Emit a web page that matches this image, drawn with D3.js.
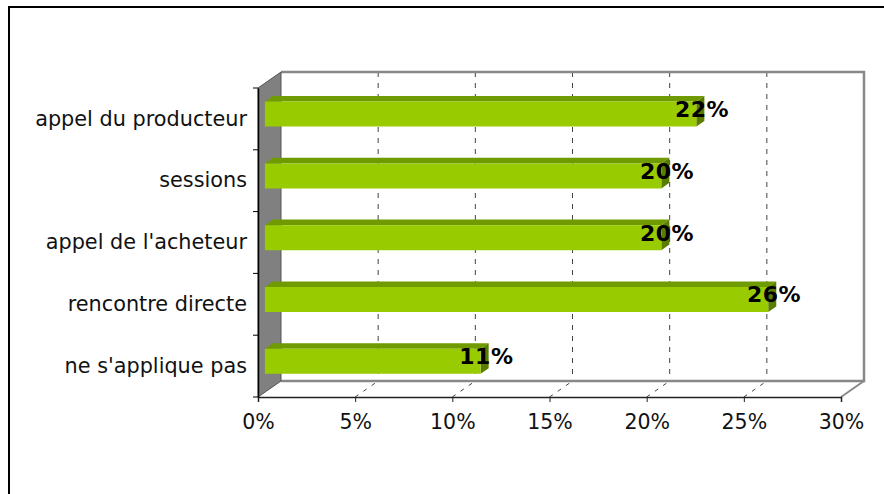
<!DOCTYPE html>
<html>
<head>
<meta charset="utf-8">
<script src="https://cdn.jsdelivr.net/npm/d3@7"></script>
<style>
  body { margin: 0; background: #fff; }
  svg { display: block; }
  text { font-family: "DejaVu Sans", Verdana, sans-serif; }
</style>
</head>
<body>
<svg id="chart" width="884" height="494"></svg>
<script>
// chart data
var categories = ["appel du producteur", "sessions", "appel de l'acheteur", "rencontre directe", "ne s'applique pas"];
var values = [22.2, 20.4, 20.4, 25.9, 11.1];
var tickValues = [0, 5, 10, 15, 20, 25, 30];

var svg = d3.select("#chart");

// outer frame (runs off the right and bottom of the picture)
svg.append("rect")
    .attr("x", 9).attr("y", 7)
    .attr("width", 900).attr("height", 520)
    .attr("fill", "#fff")
    .attr("stroke", "#000")
    .attr("stroke-width", 2);

// front plane geometry + depth offset for the 3d look
var DX = 23, DY = -16;
var x = d3.scaleLinear().domain([0, 30]).range([258, 841]);
var y = d3.scaleBand().domain(categories).range([88, 397])
    .paddingInner(0.595).paddingOuter(0.2975);
var yTop = 88, yBottom = 397;

// project value / screen-y / depth(0..1) to screen point
function P(v, yy, z) {
    return [x(v) + z * DX, yy + z * DY];
}
function poly(pts) {
    return "M" + pts.map(function(p) { return p.join(","); }).join("L") + "Z";
}

var grp = svg.append("g");

// back wall
grp.append("path")
    .attr("d", poly([P(0, yTop, 1), P(30, yTop, 1), P(30, yBottom, 1), P(0, yBottom, 1)]))
    .attr("fill", "#fff");

// floor
grp.append("path")
    .attr("d", poly([P(0, yBottom, 0), P(30, yBottom, 0), P(30, yBottom, 1), P(0, yBottom, 1)]))
    .attr("fill", "#fff");

// gridlines on back wall and floor
var inner = tickValues.filter(function(t) { return t > 0 && t < 30; });
grp.selectAll(".grid-back")
    .data(inner)
  .enter().append("line")
    .attr("class", "grid-back")
    .attr("x1", function(d) { return P(d, yTop, 1)[0]; })
    .attr("y1", function(d) { return P(d, yTop, 1)[1]; })
    .attr("x2", function(d) { return P(d, yBottom, 1)[0]; })
    .attr("y2", function(d) { return P(d, yBottom, 1)[1]; })
    .attr("stroke", "#444")
    .attr("stroke-dasharray", "5,6");
grp.selectAll(".grid-floor")
    .data(inner)
  .enter().append("line")
    .attr("class", "grid-floor")
    .attr("x1", function(d) { return P(d, yBottom, 0)[0]; })
    .attr("y1", function(d) { return P(d, yBottom, 0)[1]; })
    .attr("x2", function(d) { return P(d, yBottom, 1)[0]; })
    .attr("y2", function(d) { return P(d, yBottom, 1)[1]; })
    .attr("stroke", "#444")
    .attr("stroke-dasharray", "4,6");

// wall / floor edges
grp.append("path")
    .attr("d", "M" + P(0, yTop, 1) + "L" + P(30, yTop, 1) + "L" + P(30, yBottom, 1) + "L" + P(0, yBottom, 1))
    .attr("fill", "none")
    .attr("stroke", "#888")
    .attr("stroke-width", 2.5);
grp.append("path")
    .attr("d", "M" + P(30, yBottom, 1) + "L" + P(30, yBottom, 0))
    .attr("fill", "none")
    .attr("stroke", "#888")
    .attr("stroke-width", 2);

// left side wall
grp.append("path")
    .attr("d", poly([P(0, yTop, 0), P(0, yTop, 1), P(0, yBottom, 1), P(0, yBottom, 0)]))
    .attr("fill", "#808080")
    .attr("stroke", "#555")
    .attr("stroke-width", 1);

// bars
var z0 = 0.3, z1 = 0.65;
var bars = grp.selectAll(".bar")
    .data(categories)
  .enter().append("g")
    .attr("class", "bar");

bars.append("path")   // top face
    .attr("d", function(d, i) {
        var y0 = y(d);
        return poly([P(0, y0, z0), P(values[i], y0, z0), P(values[i], y0, z1), P(0, y0, z1)]);
    })
    .attr("fill", "#6f9a00");
bars.append("path")   // side face
    .attr("d", function(d, i) {
        var y0 = y(d), y1 = y(d) + y.bandwidth();
        return poly([P(values[i], y0, z0), P(values[i], y0, z1), P(values[i], y1, z1), P(values[i], y1, z0)]);
    })
    .attr("fill", "#5a7d00");
bars.append("path")   // front face
    .attr("d", function(d, i) {
        var y0 = y(d), y1 = y(d) + y.bandwidth();
        return poly([P(0, y0, z0), P(values[i], y0, z0), P(values[i], y1, z0), P(0, y1, z0)]);
    })
    .attr("fill", "#99cc00");

// value labels
bars.append("text")
    .attr("x", function(d, i) { return P(values[i], 0, 0.55)[0]; })
    .attr("y", function(d) { return P(0, y(d) + y.bandwidth() / 2, 0.6)[1]; })
    .attr("dy", "0.35em")
    .attr("text-anchor", "middle")
    .attr("font-size", "22px")
    .attr("font-weight", "bold")
    .attr("letter-spacing", "0.5px")
    .attr("fill", "#000")
    .text(function(d, i) { return Math.round(values[i]) + "%"; });

// value axis along the front of the floor
var xAxis = svg.append("g")
    .attr("transform", "translate(0," + yBottom + ")")
    .call(d3.axisBottom(x).tickValues(tickValues)
        .tickFormat(function(d) { return d + "%"; })
        .tickSize(5).tickPadding(12));
xAxis.select(".domain").attr("stroke", "#222").attr("stroke-width", 1.5);
xAxis.selectAll(".tick line").attr("stroke", "#222");
xAxis.selectAll("text")
    .attr("font-family", "'DejaVu Sans', Verdana, sans-serif")
    .attr("font-size", "20.5px")
    .attr("fill", "#111");

// category axis
var yAxis = svg.append("g")
    .attr("transform", "translate(" + x(0) + ",0)")
    .call(d3.axisLeft(y).tickSize(0).tickPadding(11));
yAxis.select(".domain").attr("stroke", "#000").attr("stroke-width", 1.5);
yAxis.selectAll("text")
    .attr("font-family", "'DejaVu Sans', Verdana, sans-serif")
    .attr("font-size", "20.8px")
    .attr("fill", "#111");

// tick marks between categories
var bounds = d3.range(categories.length + 1).map(function(i) { return yTop + i * y.step(); });
yAxis.selectAll(".bound")
    .data(bounds)
  .enter().append("line")
    .attr("class", "bound")
    .attr("x1", -5).attr("x2", 0)
    .attr("y1", function(d) { return d; })
    .attr("y2", function(d) { return d; })
    .attr("stroke", "#000");
</script>
</body>
</html>
